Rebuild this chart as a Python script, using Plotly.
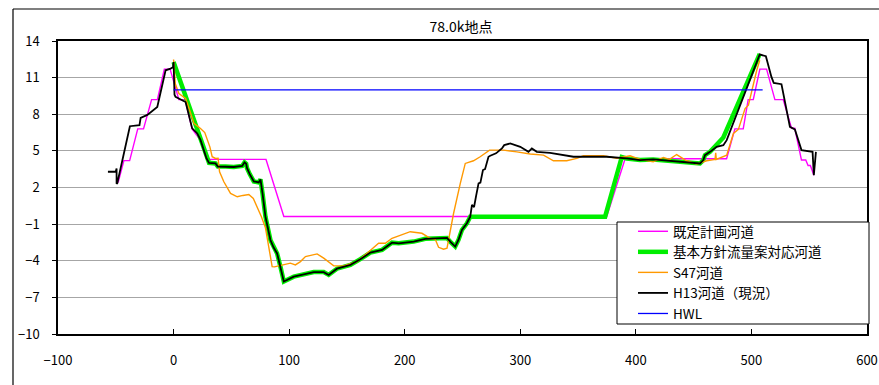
import plotly.graph_objects as go

# ---- cross-section data (distance [m], elevation [m]) ----
plan_x = [-48, -43, -38, -31, -26, -19, -14, -8, -3, 4.6, 10, 16, 23, 29, 80, 95.4,
          374.8, 390.7, 478.5, 485.7, 492.9, 497.2, 501.6, 507.3, 513.1, 520.3, 527.5,
          534.7, 537.5, 543.3, 547, 549, 551, 554]
plan_y = [2.4, 4.2, 4.2, 6.8, 6.8, 9.2, 9.2, 11.7, 11.7, 9.2, 9.2, 6.8, 5.9, 4.3, 4.3, -0.38,
          -0.38, 4.35, 4.35, 6.8, 6.8, 9.2, 9.2, 11.7, 11.7, 9.2, 9.2,
          6.85, 6.85, 4.25, 4.25, 3.8, 3.8, 3.0]

h13_x = [-56.8, -50.1, -49.3, -49.3, -48.7, -37.8, -29.5, -28.5, -22.7, -14.1, -6.9, -2.6,
         -0.5, 0, 0.8, 1.7, 6.1, 10.4, 16.1, 20.5, 23.3, 28.5, 30.7, 36.3, 38.3, 45, 52.1,
         59.4, 61.4, 62.8, 63.5, 65.9, 69.4, 73.7, 75.2, 77, 79.5, 83.8, 86.5, 89.6, 92.5,
         95.4, 104, 109.8, 121.3, 129.9, 134.2, 141.4, 153, 161.6, 170.3, 180.4, 189, 194.8,
         207.8, 217.8, 230.8, 236.6, 240, 243.7, 246.5, 249.5, 253.8, 256.7, 258.2, 260,
         261.9, 263.9, 265.5, 267.7, 269.5, 272.5, 274, 279, 284.1, 286.1, 291.3, 300,
         307.1, 310, 314.3, 325.8, 346, 374.8, 392.1, 403.6, 415, 444, 455.5, 458.4, 459.8,
         464.2, 469.9, 475.7, 478.6, 507.2, 510.8, 512.5, 517.3, 519.3, 526, 533.3, 537.6,
         543.3, 552.9, 554, 555.8]
h13_y = [3.29, 3.29, 3.55, 2.3, 2.35, 7.02, 7.1, 7.7, 7.95, 8.6, 11.6, 11.74,
         11.85, 12.28, 9.6, 9.42, 9.2, 9.0, 6.84, 6.43, 5.9, 4.38, 4.02, 3.97, 3.72, 3.72, 3.68,
         3.76, 4.06, 3.95, 3.6, 3.1, 2.5, 2.42, 2.67, 1.5, -0.39, -2.3, -2.9, -3.4, -4.5,
         -5.7, -5.3, -5.16, -4.93, -4.93, -5.16, -4.65, -4.34, -3.87, -3.33, -3.11, -2.52, -2.57,
         -2.43, -2.2, -2.13, -2.13, -2.5, -2.84, -2.3, -1.48, -0.93, -0.39, 0.57, 0.4,
         1.38, 2.34, 2.4, 3.43, 3.5, 4.52, 4.6, 4.8, 5.2, 5.47, 5.61, 5.33,
         4.92, 5.2, 4.92, 4.84, 4.52, 4.52, 4.38, 4.25, 4.3, 4.1, 3.97, 4.25, 4.65,
         4.92, 5.33, 5.47, 5.88, 12.9, 12.83, 12.75, 11.06, 10.57, 10.46, 6.97, 6.76,
         5.06, 4.92, 3.0, 4.92]

s47_x = [0, 1.5, 4.6, 10.4, 14, 17.6, 23.3, 27, 31.4, 33.4, 36.3, 38.5, 39.8, 43.5, 49.3,
         55.1, 60, 65.1, 69, 72.3, 76, 79.5, 82.4, 85.3, 87.3, 95.4, 101.1, 105.4, 109.8,
         114.1, 124.2, 129.9, 134.2, 138.6, 147.2, 150.1, 158.8, 167.4, 177.4, 183.2, 189,
         204.8, 214.9, 222.1, 226.4, 229.3, 233.6, 236.6, 242.3, 248.1, 252.4, 259.5, 265.3,
         273.4, 285.5, 297, 308.6, 320.1, 324, 328.7, 340.2, 348.9, 354.6, 371.9, 383.5,
         395, 403.6, 415, 423.8, 429, 435.3, 444, 452.6, 461.3, 468.5, 469.1, 469.6, 478.6,
         484.4, 488.7, 494.5, 497.4, 504.6, 507.2]
s47_y = [12.48, 10.5, 9.7, 9.29, 8.3, 7.25, 6.84, 6.5, 5.33, 4.52, 4.38, 4.4, 3.29, 2.47, 1.52,
         1.24, 1.35, 1.42, 1.1, 0.43, -0.4, -1.3, -2.84, -4.48, -4.5, -4.34, -4.2, -4.34, -4.07,
         -3.66, -3.44, -3.79, -4.07, -4.42, -4.42, -4.34, -4.07, -3.38, -2.57, -2.57, -2.16,
         -1.62, -1.75, -2.16, -2.24, -2.9, -3.06, -2.97, -0.11, 2.34, 3.97, 4.19, 4.52,
         5.06, 5.06, 4.92, 4.74, 4.65, 4.45, 4.19, 4.19, 4.38, 4.6, 4.6, 4.4,
         4.6, 4.3, 4.1, 4.46, 4.3, 4.7, 4.19, 3.92, 4.19, 4.3, 4.85, 4.3, 4.65,
         6.43, 6.76, 8.47, 8.74, 11.6, 12.42]

# design channel: own points where it departs from the present channel,
# present-channel points where the two coincide
plan2_left_x, plan2_left_y = [0, 23.3], [12.28, 6.0]
plan2_bed_x, plan2_bed_y = [373.4, 387.8], [-0.39, 4.5]
plan2_right_x, plan2_right_y = [469.9, 475.7, 507.2], [5.5, 6.1, 12.95]


def h13_between(lo, hi):
    pts = [(x, y) for x, y in zip(h13_x, h13_y) if lo <= x <= hi]
    return [p[0] for p in pts], [p[1] for p in pts]


seg1_x, seg1_y = h13_between(28.5, 256.7)
seg2_x, seg2_y = h13_between(392.0, 464.2)
plan2_x = plan2_left_x + seg1_x + plan2_bed_x + seg2_x + plan2_right_x
plan2_y = plan2_left_y + seg1_y + plan2_bed_y + seg2_y + plan2_right_y

hwl_x = [0, 509.7]
hwl_y = [10.0, 10.0]

FONT = "Noto Sans CJK JP"

fig = go.Figure()
fig.add_trace(go.Scatter(x=plan_x, y=plan_y, mode="lines", name="既定計画河道",
                         line=dict(color="#ff00ff", width=1.4)))
fig.add_trace(go.Scatter(x=plan2_x, y=plan2_y, mode="lines", name="基本方針流量案対応河道",
                         line=dict(color="#00ee00", width=4.5)))
fig.add_trace(go.Scatter(x=s47_x, y=s47_y, mode="lines", name="S47河道",
                         line=dict(color="#ff9900", width=1.4)))
fig.add_trace(go.Scatter(x=h13_x, y=h13_y, mode="lines", name="H13河道（現況）",
                         line=dict(color="#000000", width=1.8)))
fig.add_trace(go.Scatter(x=hwl_x, y=hwl_y, mode="lines", name="HWL",
                         line=dict(color="#0000ff", width=1.3)))

W, H = 879, 385
ML, MR, MT, MB = 58, 12, 41, 51
pw, ph = W - ML - MR, H - MT - MB


def px_x(p):
    return (p - ML) / pw


def px_y(p):
    return (H - MB - p) / ph


fig.update_layout(
    width=W, height=H, autosize=False,
    margin=dict(l=ML, r=MR, t=MT, b=MB, autoexpand=False),
    paper_bgcolor="white", plot_bgcolor="white",
    font=dict(family=FONT, size=13, color="#000000"),
    title=dict(text="78.0k地点", x=px_x(461), xref="paper", xanchor="center",
               y=1 - 27 / H, yanchor="middle", yref="container",
               font=dict(family=FONT, size=14)),
    showlegend=True,
    # legend entries sit on a framed white panel drawn as a shape
    legend=dict(x=px_x(633), y=px_y(216), xanchor="left", yanchor="top",
                bgcolor="rgba(0,0,0,0)", borderwidth=0,
                font=dict(family=FONT, size=13.5), tracegroupgap=0, itemwidth=30),
    xaxis=dict(range=[-100, 600], tickvals=list(range(-100, 601, 100)),
               showgrid=False, zeroline=False, automargin=False,
               showline=True, linecolor="#000000", linewidth=1.5, mirror=True,
               ticks="inside", ticklen=5, tickcolor="#000000",
               ticklabelstandoff=14, tickfont=dict(size=13)),
    yaxis=dict(range=[-10, 14], tickvals=list(range(-10, 15, 3)),
               showgrid=True, gridcolor="#a6a6a6", gridwidth=1.3, zeroline=False,
               automargin=False,
               showline=True, linecolor="#000000", linewidth=1.5, mirror=True,
               ticks="outside", ticklen=4, tickcolor="#000000",
               ticklabelstandoff=10, tickfont=dict(size=13)),
    shapes=[
        dict(type="line", xref="paper", yref="paper",
             x0=px_x(13), x1=px_x(879), y0=px_y(9), y1=px_y(9),
             line=dict(color="#000000", width=1.2)),
        dict(type="line", xref="paper", yref="paper",
             x0=px_x(13), x1=px_x(13), y0=px_y(9), y1=px_y(385),
             line=dict(color="#000000", width=1.2)),
        dict(type="rect", xref="paper", yref="paper", layer="above",
             x0=px_x(617), x1=px_x(869), y0=px_y(324), y1=px_y(222),
             fillcolor="white", line=dict(color="#000000", width=1)),
    ],
)

fig.write_html("out.html")
